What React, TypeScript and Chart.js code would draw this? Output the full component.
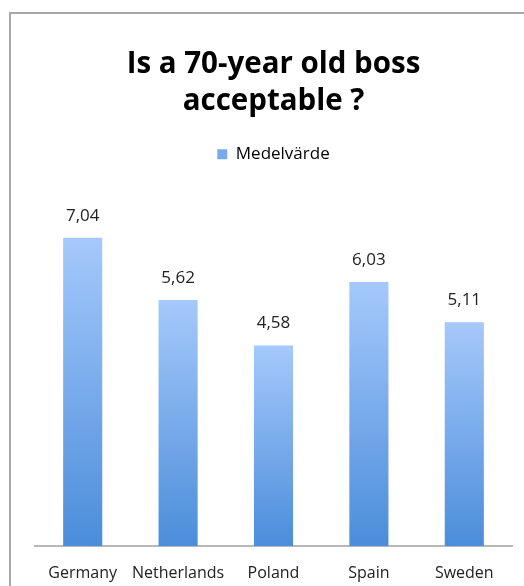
import React, { useEffect, useRef } from "react";
import { Chart, registerables } from "chart.js";

Chart.register(...registerables);

const categories = ["Germany", "Netherlands", "Poland", "Spain", "Sweden"];
const values = [7.04, 5.62, 4.58, 6.03, 5.11];
const valueLabels = ["7,04", "5,62", "4,58", "6,03", "5,11"];
const seriesName = "Medelvärde";
const titleLines = ["Is a 70-year old boss", "acceptable ?"];

const FONT = "'Open Sans', 'Liberation Sans', sans-serif";

const dataLabelPlugin = {
  id: "dataLabels",
  afterDatasetsDraw(chart: any) {
    const ctx = chart.ctx;
    const meta = chart.getDatasetMeta(0);
    ctx.save();
    ctx.fillStyle = "#222";
    ctx.font = `17px ${FONT}`;
    ctx.textAlign = "center";
    ctx.textBaseline = "middle";
    meta.data.forEach((bar: any, i: number) => {
      ctx.fillText(valueLabels[i], bar.x, bar.y - 22);
    });
    ctx.restore();
  },
};

const legendSpacePlugin = {
  id: "legendSpace",
  beforeInit(chart: any) {
    const legend = chart.legend;
    if (!legend) return;
    const origFit = legend.fit;
    legend.fit = function () {
      origFit.call(this);
      this.height += 23;
    };
  },
};

export default function App() {
  const ref = useRef<HTMLCanvasElement | null>(null);
  useEffect(() => {
    if (!ref.current) return;
    const chart = new Chart(ref.current, {
      type: "bar",
      data: {
        labels: categories,
        datasets: [
          {
            label: seriesName,
            data: values,
            backgroundColor: (c: any) => {
              const ch = c.chart;
              const y = ch.scales && ch.scales.y;
              if (!y || c.parsed == null || c.type !== "data") return "#77a9ec";
              const top = y.getPixelForValue(c.parsed.y);
              const bottom = y.getPixelForValue(0);
              if (!isFinite(top) || !isFinite(bottom) || top === bottom) return "#77a9ec";
              const g = ch.ctx.createLinearGradient(0, top, 0, bottom);
              g.addColorStop(0, "#a5c9fb");
              g.addColorStop(1, "#4b8dda");
              return g;
            },
            borderWidth: 0,
            categoryPercentage: 1,
            barPercentage: 0.41,
          },
        ],
      },
      options: {
        animation: false,
        responsive: false,
        maintainAspectRatio: false,
        layout: { padding: { left: 35, right: 12, top: 0, bottom: 0 } },
        plugins: {
          tooltip: { enabled: false },
          title: {
            display: true,
            text: titleLines,
            color: "#000",
            font: { family: FONT, size: 29.5, weight: "bold", lineHeight: 1.254 },
            padding: { top: 46.5, bottom: 15.3 },
          },
          legend: {
            display: true,
            labels: {
              color: "#222",
              font: { family: FONT, size: 17 },
              boxWidth: 10,
              boxHeight: 10,
              padding: 10,
              generateLabels: () => [
                {
                  text: seriesName,
                  fillStyle: "#77a9ec",
                  strokeStyle: "#77a9ec",
                  lineWidth: 0,
                  hidden: false,
                  datasetIndex: 0,
                },
              ],
            },
          },
        },
        scales: {
          x: {
            grid: { display: false },
            border: { display: true, color: "#b8b8b8", width: 2 },
            ticks: {
              color: "#222",
              font: { family: FONT, size: 16 },
              padding: 9.4,
              maxRotation: 0,
              minRotation: 0,
              autoSkip: false,
            },
          },
          y: {
            display: false,
            min: 0,
            max: 8,
          },
        },
      },
      plugins: [dataLabelPlugin, legendSpacePlugin],
    });
    return () => chart.destroy();
  }, []);

  return (
    <div style={{ position: "absolute", left: 0, top: 0, width: 524, height: 586, overflow: "hidden", background: "#fff" }}>
      <div
        style={{
          position: "absolute",
          left: 9,
          top: 12,
          width: 600,
          height: 700,
          borderLeft: "2px solid #a8a8a8",
          borderTop: "2px solid #a8a8a8",
        }}
      />
      <canvas ref={ref} width={524} height={592} style={{ position: "absolute", left: 0, top: 0 }} />
    </div>
  );
}
